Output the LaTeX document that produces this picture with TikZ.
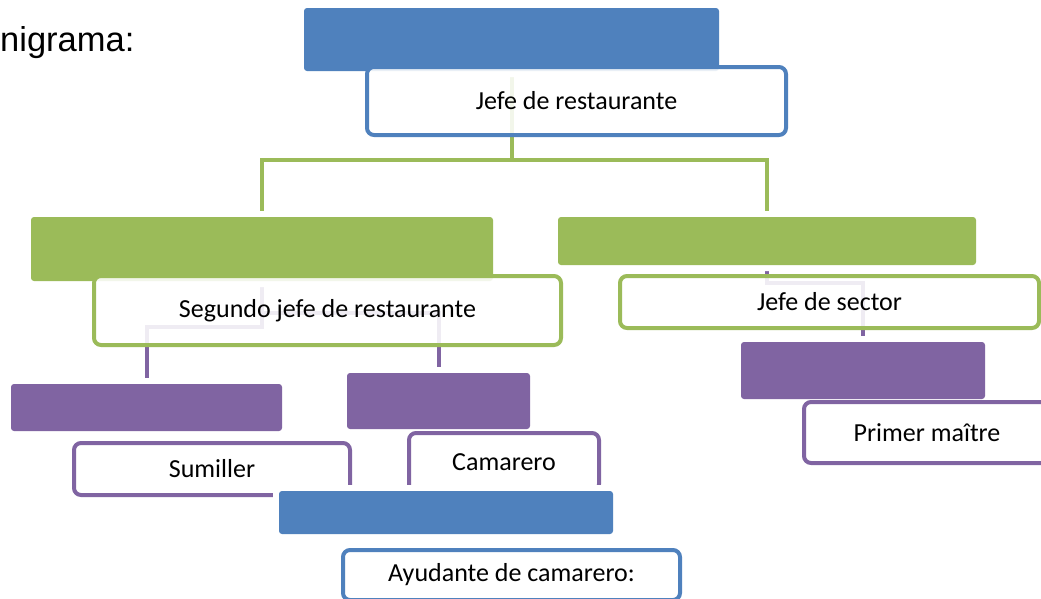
\documentclass[tikz,border=0pt]{standalone}
\usepackage{fontspec}
\setmainfont{Carlito}
\newfontfamily\arialf{Liberation Sans}
\definecolor{oblue}{HTML}{4F81BD}
\definecolor{ogreen}{HTML}{9BBB59}
\definecolor{opurple}{HTML}{8064A2}
\pgfdeclarelayer{bg}
\pgfsetlayers{bg,main}
\tikzset{
  header/.style={fill=#1, rounded corners=3pt, inner sep=0pt,
    preaction={draw=white, line width=12pt}},
  wbox/.style={draw=#1, line width=4pt, rounded corners=7pt, fill=white,
    fill opacity=0.88, text opacity=1, inner sep=0pt,
    font=\fontsize{26}{30}\selectfont},
  conn/.style={draw=#1, line width=4pt},
}
\begin{document}
\begin{tikzpicture}[x=1pt,y=-1pt]
\useasboundingbox (0,0) rectangle (1041,598);
\node[anchor=base west, inner sep=0pt, font=\arialf\fontsize{34.5}{40}\selectfont] (title) at (0,51) {nigrama:};
% level 1
\node[header=oblue, minimum width=415pt, minimum height=63pt] (h1) at (511.5,39.5) {};
\node[wbox=oblue, minimum width=419pt, minimum height=68pt] (b1) at (576.5,101) {Jefe de restaurante};
% level 2
\node[header=ogreen, minimum width=462pt, minimum height=64pt] (h2l) at (262,249) {};
\node[wbox=ogreen, minimum width=467pt, minimum height=69pt] (b2l) at (327.5,310.5) {Segundo jefe de restaurante};
\node[header=ogreen, minimum width=418pt, minimum height=48pt] (h2r) at (767,241) {};
\node[wbox=ogreen, minimum width=419pt, minimum height=52pt] (b2r) at (829.5,302) {Jefe de sector};
% level 3
\node[header=opurple, minimum width=271pt, minimum height=47pt] (h3a) at (146.5,407.5) {};
\node[wbox=opurple, minimum width=276pt, minimum height=52pt] (b3a) at (212,469) {Sumiller};
\node[header=opurple, minimum width=183pt, minimum height=56pt] (h3b) at (438.5,401) {};
\node[wbox=opurple, minimum width=190pt, minimum height=58pt] (b3b) at (504,462) {Camarero};
\node[header=opurple, minimum width=244pt, minimum height=57pt] (h3c) at (863,370.5) {};
\node[wbox=opurple, minimum width=246pt, minimum height=61pt] (b3c) at (927,432.5) {Primer maître};
% level 4
\node[header=oblue, minimum width=334pt, minimum height=43pt] (h4) at (446,512.5) {};
\node[wbox=oblue, minimum width=337pt, minimum height=50pt] (b4) at (511.5,575) {Ayudante de camarero:};
% connectors
\begin{pgfonlayer}{bg}
\draw[conn=ogreen] (h1.south) -- (h1.south |- 0,160) -| (h2l.north);
\draw[conn=ogreen] (h1.south |- 0,160) -| (h2r.north);
\draw[conn=opurple] (h2l.south) -- (h2l.south |- 0,327) -| (h3a.north);
\draw[conn=opurple] (h2l.south) -- (h2l.south |- 0,313) -| (h3b.north);
\draw[conn=opurple] (h2r.south) -- (h2r.south |- 0,283) -| (h3c.north);
\end{pgfonlayer}
\end{tikzpicture}
\end{document}
